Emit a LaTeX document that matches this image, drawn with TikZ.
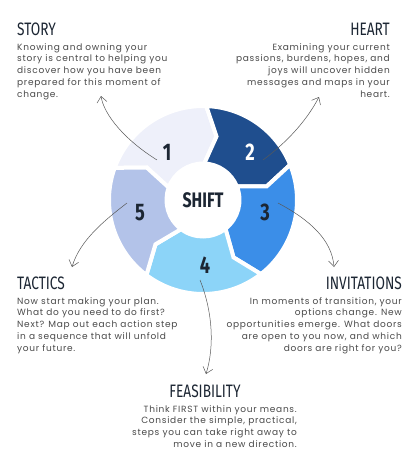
\documentclass[tikz,border=0pt]{standalone}
\usepackage{fontspec}
\usetikzlibrary{arrows.meta}
\newfontfamily\headfont{Fira Sans}[FakeStretch=0.76]
\newfontfamily\bodyfont{Poppins}[LetterSpace=8]
\definecolor{segone}{HTML}{EEF0FA}
\definecolor{segtwo}{HTML}{1F4E8E}
\definecolor{segthree}{HTML}{3B8EE8}
\definecolor{segfour}{HTML}{8CD4F8}
\definecolor{segfive}{HTML}{B3C3E9}
\definecolor{inkdark}{HTML}{1C2633}
\definecolor{bodygray}{HTML}{4A4A4A}
% one chevron piece of the ring: colour, start angle, end angle
\newcommand{\chevseg}[3]{%
  \filldraw[fill=#1, draw=white, line width=4pt]
    (#2:94pt) arc[start angle=#2, end angle=#3, radius=94pt]
    -- (#3-10:65pt) -- (#3:36.5pt)
    arc[start angle=#3, end angle=#2, radius=36.5pt]
    -- (#2-10:65pt) -- cycle;}
\begin{document}
\begin{tikzpicture}[x=1pt, y=1pt,
segnum/.style={font=\headfont\bfseries\fontsize{24}{24}\selectfont, text=inkdark, inner sep=0pt},
headnode/.style={font=\headfont\fontsize{18}{18}\selectfont, text=inkdark, inner sep=0pt},
bodynode/.style={font=\bodyfont\fontsize{9}{11.8}\selectfont, text=bodygray, inner sep=0pt},
pointer/.style={draw=black!65, line width=0.5pt, -{Straight Barb[length=6pt, width=10pt]}},
]
    \fill[white] (-203,200) rectangle (215,-264);
    \useasboundingbox (-203,200) rectangle (215,-264);
    % ring
    \chevseg{segone}{160}{88}
    \chevseg{segtwo}{88}{22}
    \chevseg{segthree}{22}{-52}
    \chevseg{segfour}{-52}{-127}
    \chevseg{segfive}{233}{160}
    \node[font=\headfont\bfseries\fontsize{21}{21}\selectfont, text=inkdark] (shift) at (0,0) {SHIFT};
    \node[segnum] (n1) at (-36,48) {1};
    \node[segnum, text=white] (n2) at (47,48) {2};
    \node[segnum] (n3) at (62,-12) {3};
    \node[segnum] (n4) at (2,-65) {4};
    \node[segnum] (n5) at (-63,-13) {5};
    % texts
    \node[headnode, anchor=base west] (story) at (-186,165) {STORY};
    \node[bodynode, anchor=north west, align=left] (storytext) at (-186,157)
      {Knowing and owning your\\story is central to helping you\\discover how you have been\\prepared for this moment of\\change.};
    \node[headnode, anchor=base east] (heart) at (187,165) {HEART};
    \node[bodynode, anchor=north east, align=right] (hearttext) at (187,157)
      {Examining your current\\passions, burdens, hopes, and\\joys will uncover hidden\\messages and maps in your\\heart.};
    \node[headnode, anchor=base west] (tactics) at (-186,-89) {TACTICS};
    \node[bodynode, anchor=north west, align=left] (tacticstext) at (-186,-97)
      {Now start making your plan.\\What do you need to do first?\\Next? Map out each action step\\in a sequence that will unfold\\your future.};
    \node[headnode, anchor=base east] (invitations) at (199,-89) {INVITATIONS};
    \node[bodynode, anchor=north east, align=right] (invitationstext) at (199,-97)
      {In moments of transition, your\\options change. New\\opportunities emerge. What doors\\are open to you now, and which\\doors are right for you?};
    \node[headnode, anchor=base] (feasibility) at (2,-197) {FEASIBILITY};
    \node[bodynode, anchor=north east, align=right] (feasibilitytext) at (94,-205)
      {Think FIRST within your means.\\Consider the simple, practical,\\steps you can take right away to\\move in a new direction.};
    % pointers
    \coordinate (s1) at (-46,40);   \coordinate (t1) at (-102,104);
    \coordinate (s2) at (60,40);    \coordinate (t2) at (116,103);
    \coordinate (s3) at (75,-3);    \coordinate (t3) at (131,-67);
    \coordinate (s4) at (-3,-80);   \coordinate (t4) at (3,-174);
    \coordinate (s5) at (-76,-3);   \coordinate (t5) at (-131,-67);
    \draw[pointer] (s1) .. controls (-78,60) and (-99,85) .. (t1);
    \draw[pointer] (s2) .. controls (87,60) and (105,82) .. (t2);
    \draw[pointer] (s3) .. controls (107,-20) and (129,-40) .. (t3);
    \draw[pointer] (s4) .. controls (9,-110) and (12,-145) .. (t4);
    \draw[pointer] (s5) .. controls (-98,-20) and (-123,-40) .. (t5);
  \end{tikzpicture}
\end{document}
